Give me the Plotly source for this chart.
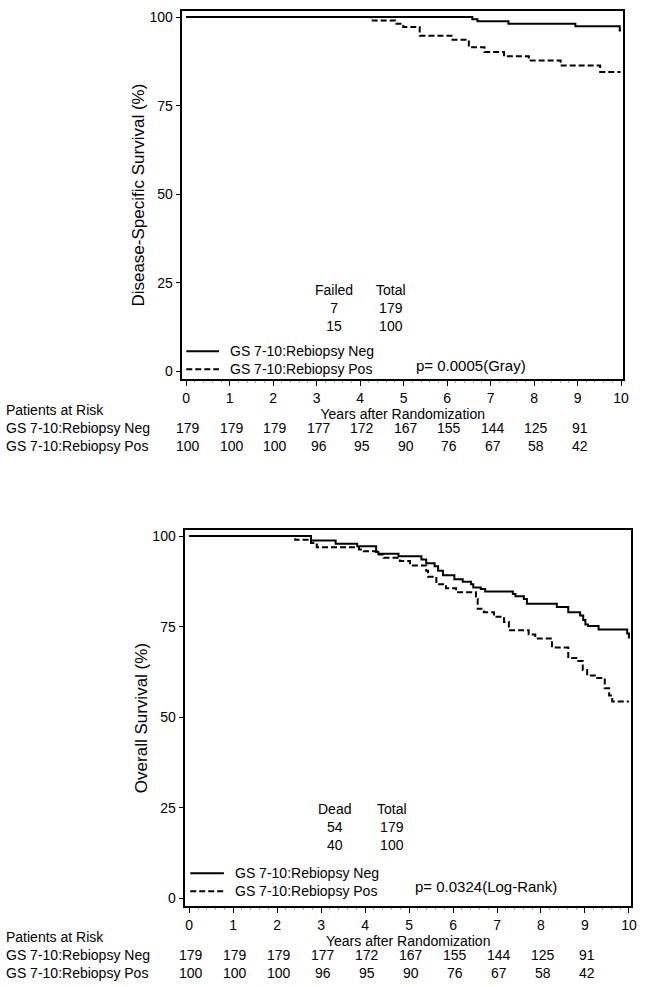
import plotly.graph_objects as go

# ---------------- data ----------------
years = [0, 1, 2, 3, 4, 5, 6, 7, 8, 9, 10]
group_labels = ["GS 7-10:Rebiopsy Neg", "GS 7-10:Rebiopsy Pos"]

# Disease-specific survival (top panel)
dss_neg_t = [0, 6.58, 6.70, 7.41, 8.95, 9.97, 10.0]
dss_neg_s = [100, 99.4, 98.8, 98.1, 97.4, 96.2, 96.2]
dss_pos_t = [0, 4.25, 4.80, 4.99, 5.37, 6.10, 6.50, 6.86, 7.31, 7.88, 8.61, 9.52, 9.99]
dss_pos_s = [100, 99.0, 98.1, 97.2, 94.7, 93.6, 91.5, 90.1, 88.9, 87.7, 86.3, 84.5, 84.5]

# Overall survival (bottom panel)
os_neg_t = [0, 2.77, 3.33, 3.82, 4.25, 4.30, 4.76, 5.28, 5.39, 5.58, 5.66, 5.77, 6.03, 6.22,
            6.41, 6.46, 6.63, 6.73, 7.36, 7.42, 7.61, 7.68, 8.36, 8.62, 8.89, 8.96, 9.01,
            9.07, 9.31, 9.96, 10.0]
os_neg_s = [100, 98.8, 97.9, 97.2, 95.6, 95.1, 94.4, 93.5, 92.5, 91.7, 90.4, 89.2, 88.1, 87.4,
            86.7, 85.8, 85.4, 84.7, 84.0, 83.4, 82.6, 81.3, 80.4, 79.0, 78.1, 76.8, 75.6,
            75.2, 74.2, 73.1, 71.7]
os_pos_t = [0, 2.41, 2.77, 2.90, 3.86, 3.97, 4.27, 4.42, 4.79, 5.02, 5.39, 5.43, 5.62, 5.84,
            6.07, 6.52, 6.56, 6.70, 6.93, 7.16, 7.27, 7.72, 7.87, 8.25, 8.62, 8.85, 8.95,
            9.05, 9.25, 9.45, 9.55, 9.62, 10.0]
os_pos_s = [100, 99.0, 98.1, 96.9, 96.3, 95.8, 94.9, 94.0, 93.1, 91.9, 90.4, 88.8, 86.7, 85.6,
            84.5, 82.6, 79.9, 79.0, 77.7, 76.3, 74.0, 72.8, 71.7, 69.2, 66.3, 65.5, 63.0,
            61.5, 60.8, 58.0, 56.0, 54.3, 54.3]

# numbers at risk (same for both panels)
risk_neg = [179, 179, 179, 177, 172, 167, 155, 144, 125, 91]
risk_pos = [100, 100, 100, 96, 95, 90, 76, 67, 58, 42]
risk_years = [0.05, 1.05, 2.05, 3.05, 4.05, 5.05, 6.05, 7.05, 8.05, 9.05]

dss_counts = {"Failed": [7, 15], "Total": [179, 100]}
os_counts = {"Dead": [54, 40], "Total": [179, 100]}
dss_p = "p= 0.0005(Gray)"
os_p = "p= 0.0324(Log-Rank)"

# ---------------- styling ----------------
FONT = "Liberation Sans, Arial, sans-serif"
FS = 14
FS_T = 14
W, H = 651, 987

def py(p):  # pixel row -> paper y
    return 1 - p / H

def px(p):  # pixel column -> paper x
    return p / W

fig = go.Figure()

DASH = "6px,3px"

def add_curves(tn, sn, tp, sp, xa, ya):
    fig.add_trace(go.Scatter(x=tn, y=sn, mode="lines", line=dict(color="black", width=2, shape="hv"),
                             name=group_labels[0], xaxis=xa, yaxis=ya, showlegend=False))
    fig.add_trace(go.Scatter(x=tp, y=sp, mode="lines",
                             line=dict(color="black", width=2, shape="hv", dash=DASH),
                             name=group_labels[1], xaxis=xa, yaxis=ya, showlegend=False))

add_curves(dss_neg_t, dss_neg_s, dss_pos_t, dss_pos_s, "x", "y")
add_curves(os_neg_t, os_neg_s, os_pos_t, os_pos_s, "x2", "y2")

axis_common = dict(showline=True, mirror=True, linecolor="black", linewidth=1.5,
                   ticks="outside", ticklen=5, tickcolor="black", showgrid=False, zeroline=False,
                   tickfont=dict(family=FONT, size=FS, color="black"))
xcommon = dict(axis_common, range=[-0.09, 10.05], tickvals=years,
               minor=dict(dtick=0.2, ticks="outside", ticklen=2, tickcolor="#aaaaaa"),
               title=dict(text="Years after Randomization", font=dict(family=FONT, size=FS, color="black"),
                          standoff=3))
ycommon = dict(axis_common, range=[-2.2, 101.7], tickvals=[0, 25, 50, 75, 100])

fig.update_layout(
    width=W, height=H, margin=dict(l=0, r=0, t=0, b=0),
    paper_bgcolor="white", plot_bgcolor="white",
    font=dict(family=FONT, size=FS, color="black"),
    showlegend=False,
    xaxis=dict(xcommon, domain=[px(184), px(629)], anchor="y"),
    yaxis=dict(ycommon, domain=[py(378), py(9)], anchor="x",
               title=dict(text="Disease-Specific Survival (%)", font=dict(family=FONT, size=17, color="black"),
                          standoff=0)),
    xaxis2=dict(xcommon, domain=[px(187), px(637)], anchor="y2"),
    yaxis2=dict(ycommon, domain=[py(906), py(529)], anchor="x2",
                title=dict(text="Overall Survival (%)", font=dict(family=FONT, size=17, color="black"),
                           standoff=0)),
)

ann = []
shapes = []

def txt(x, y, s, xref="x", xanchor="center", size=FS_T, align="center"):
    ann.append(dict(x=x, y=y, xref=xref, yref="paper", text=s, showarrow=False, xanchor=xanchor,
                    yanchor="middle", align=align, font=dict(family=FONT, size=size, color="black")))

# counts blocks inside plots (one multi-line text per column)
def counts_block(counts, xs, ycenter_px, xref):
    for (hdr, vals), x in zip(counts.items(), xs):
        txt(x, py(ycenter_px), "<br>".join([hdr] + [str(v) for v in vals]), xref)

counts_block(dss_counts, [3.40, 4.72], 307, "x")
counts_block(os_counts, [3.30, 4.62], 827, "x2")

# p-values
txt(6.55, py(364), dss_p, "x", size=15)
txt(6.75, py(886), os_p, "x2", size=15)

# legends (line samples + labels)
def legend_block(x0, x1, xt, y1, y2):
    shapes.append(dict(type="line", xref="paper", yref="paper", x0=px(x0), x1=px(x1),
                       y0=py(y1), y1=py(y1), line=dict(color="black", width=2)))
    shapes.append(dict(type="line", xref="paper", yref="paper", x0=px(x0), x1=px(x1),
                       y0=py(y2), y1=py(y2), line=dict(color="black", width=2, dash=DASH)))
    txt(px(xt), py((y1 + y2) / 2), "<br>".join(group_labels), "paper", xanchor="left",
        align="left")

legend_block(188, 221, 230, 350, 368)
legend_block(192, 226, 235, 873, 891)

# risk tables
def risk_table(xref, center_px):
    txt(px(4), py(center_px), "<br>".join(["Patients at Risk"] + group_labels), "paper",
        xanchor="left", align="left")
    for yr, a, b in zip(risk_years, risk_neg, risk_pos):
        txt(yr, py(center_px + 9.1), f"{a}<br>{b}", xref)

risk_table("x", 427)
risk_table("x2", 955)

fig.update_layout(annotations=ann, shapes=shapes)
fig.write_html("out.html", config={"displayModeBar": False},
               post_script="document.body.style.margin='0';document.body.style.overflow='hidden';")
